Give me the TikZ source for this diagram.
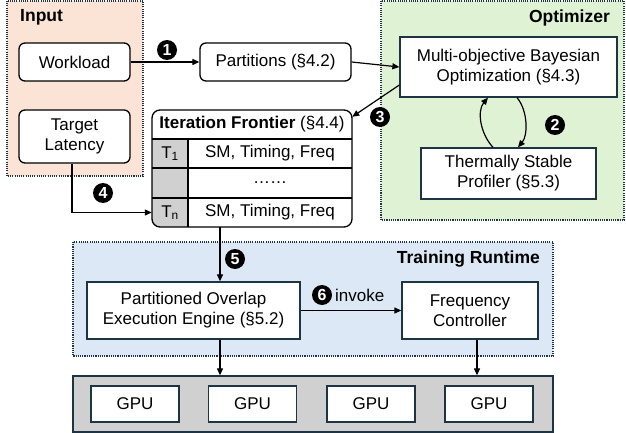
\documentclass[tikz,border=0pt]{standalone}
\usepackage{fontspec}
\setmainfont{Liberation Sans}
\usetikzlibrary{arrows.meta,calc}
\definecolor{peach}{HTML}{FBE3D5}
\definecolor{lgreen}{HTML}{DFF2D3}
\definecolor{lblue}{HTML}{DCE8F5}
\definecolor{cgray}{HTML}{D0D0D0}
\definecolor{navy}{HTML}{1C3443}
\begin{document}
\begin{tikzpicture}[x=1pt,y=-1pt,
  font=\fontsize{17}{20}\selectfont,
  group/.style={draw=navy,line width=1.3pt,dash pattern=on 1.1pt off 1.1pt},
  rbox/.style={draw=black,line width=1.3pt,rounded corners=6pt,fill=white,inner sep=0pt,align=center},
  sbox/.style={draw=navy,line width=1.3pt,fill=white,inner sep=0pt,align=center},
  cell/.style={inner sep=0pt,align=center},
  arr/.style={line width=1.2pt,-{Triangle[length=7pt,width=6pt]}},
  num/.style={circle,fill=black,text=white,inner sep=0pt,minimum size=20pt,font=\bfseries\fontsize{16}{16}\selectfont},
  glabel/.style={font=\bfseries\fontsize{17.5}{20}\selectfont,inner sep=0pt}]
\useasboundingbox (0,0) rectangle (626,433);
% groups
\fill[peach] (7,1) rectangle (143,176);
\draw[group] (7,1) rectangle (143,176);
\fill[lgreen] (381,1) rectangle (624,220);
\draw[group] (381,1) rectangle (624,220);
\fill[lblue] (73,242) rectangle (553,356);
\draw[group] (73,242) rectangle (553,356);
\node[glabel,anchor=west] (lin) at (20,17) {Input};
\node[glabel,anchor=east] (lopt) at (610,18) {Optimizer};
\node[glabel,anchor=east] (ltr) at (540,259) {Training Runtime};
% boxes
\node[rbox,minimum width=111pt,minimum height=38pt] (wl) at (74.5,62) {Workload};
\node[rbox,minimum width=111pt,minimum height=53pt] (tl) at (74.5,136.5) {Target\\Latency};
\node[rbox,minimum width=151pt,minimum height=38pt] (part) at (275.5,62) {Partitions (§4.2)};
\node[sbox,minimum width=217pt,minimum height=60pt] (mobo) at (508.5,67) {Multi-objective Bayesian\\Optimization (§4.3)};
\node[sbox,minimum width=175pt,minimum height=51pt] (prof) at (508.5,173.5) {Thermally Stable\\Profiler (§5.3)};
\node[sbox,minimum width=213pt,minimum height=57pt] (po) at (193.5,310.5) {Partitioned Overlap\\Execution Engine (§5.2)};
\node[sbox,minimum width=136pt,minimum height=57pt] (fc) at (470,310.5) {Frequency\\Controller};
\node[sbox,fill=cgray,minimum width=480pt,minimum height=56pt] (gpus) at (313,404) {};
\foreach \i/\x in {1/135,2/252.5,3/371,4/489}
  \node[sbox,minimum width=88pt,minimum height=36pt] (g\i) at (\x,404) {GPU};
% iteration frontier table
\node[inner sep=0pt,minimum width=200pt,minimum height=117pt,fill=white,rounded corners=8pt] (front) at (252,168.5) {};
\begin{scope}
  \clip[rounded corners=8pt] (152,110) rectangle (352,227);
  \fill[cgray] (152,139) rectangle (188,227);
\end{scope}
\draw[line width=1.2pt] (152,139) -- (352,139);
\draw[line width=1.2pt] (152,168) -- (352,168);
\draw[line width=1.2pt] (152,198) -- (352,198);
\draw[line width=1.2pt] (188,139) -- (188,227);
\draw[line width=1.3pt,rounded corners=8pt] (152,110) rectangle (352,227);
\node[cell] (ftitle) at (252,124.5) {\textbf{Iteration Frontier} (§4.4)};
\node[cell,minimum width=36pt,minimum height=29pt] (t1) at (170,153.5) {T\textsubscript{1}};
\node[cell] (r1) at (270,153.5) {SM, Timing, Freq};
\node[cell] (r2) at (270,183) {……};
\node[cell,minimum width=36pt,minimum height=29pt] (tn) at (170,212.5) {T\textsubscript{n}};
\node[cell] (r3) at (270,212.5) {SM, Timing, Freq};
% coordinates
\coordinate (c4) at (72,0);
\coordinate (c5) at (220,0);
\coordinate (cg) at (477,0);
\coordinate (a1) at (493,0);
\coordinate (a2) at (488,0);
\coordinate (b1) at (517,0);
\coordinate (b2) at (518,0);
% connectors
\draw[arr] (wl.east) -- (part.west);
\draw[arr] (part.east) -- (mobo.west);
\draw[arr] ($(mobo.west)+(0,18)$) -- ($(front.north east)+(0,7)$);
\draw[arr] (prof.north -| a1) .. controls ($(prof.north -| a1)+(-13,-14)$) and ($(mobo.south -| a2)+(-11,13)$) .. (mobo.south -| a2);
\draw[arr] (mobo.south -| b1) .. controls ($(mobo.south -| b1)+(11,13)$) and ($(prof.north -| b2)+(10,-12)$) .. (prof.north -| b2);
\draw[arr] (tl.south -| c4) |- (tn.west);
\draw[arr] (front.south -| c5) -- (po.north -| c5);
\draw[arr] (po.east) -- (fc.west);
\draw[arr] (po.south -| c5) -- (gpus.north -| c5);
\draw[arr] (fc.south -| cg) -- (gpus.north -| cg);
% step numbers
\node[num] (n1) at (167,50) {1};
\node[num] (n2) at (555,125) {2};
\node[num] (n3) at (380,117) {3};
\node[num] (n4) at (103,193) {4};
\node[num] (n5) at (235,259) {5};
\node[num] (n6) at (322,295) {6};
\node[anchor=west,inner sep=0pt] (inv) at (335,295) {invoke};
\end{tikzpicture}
\end{document}
